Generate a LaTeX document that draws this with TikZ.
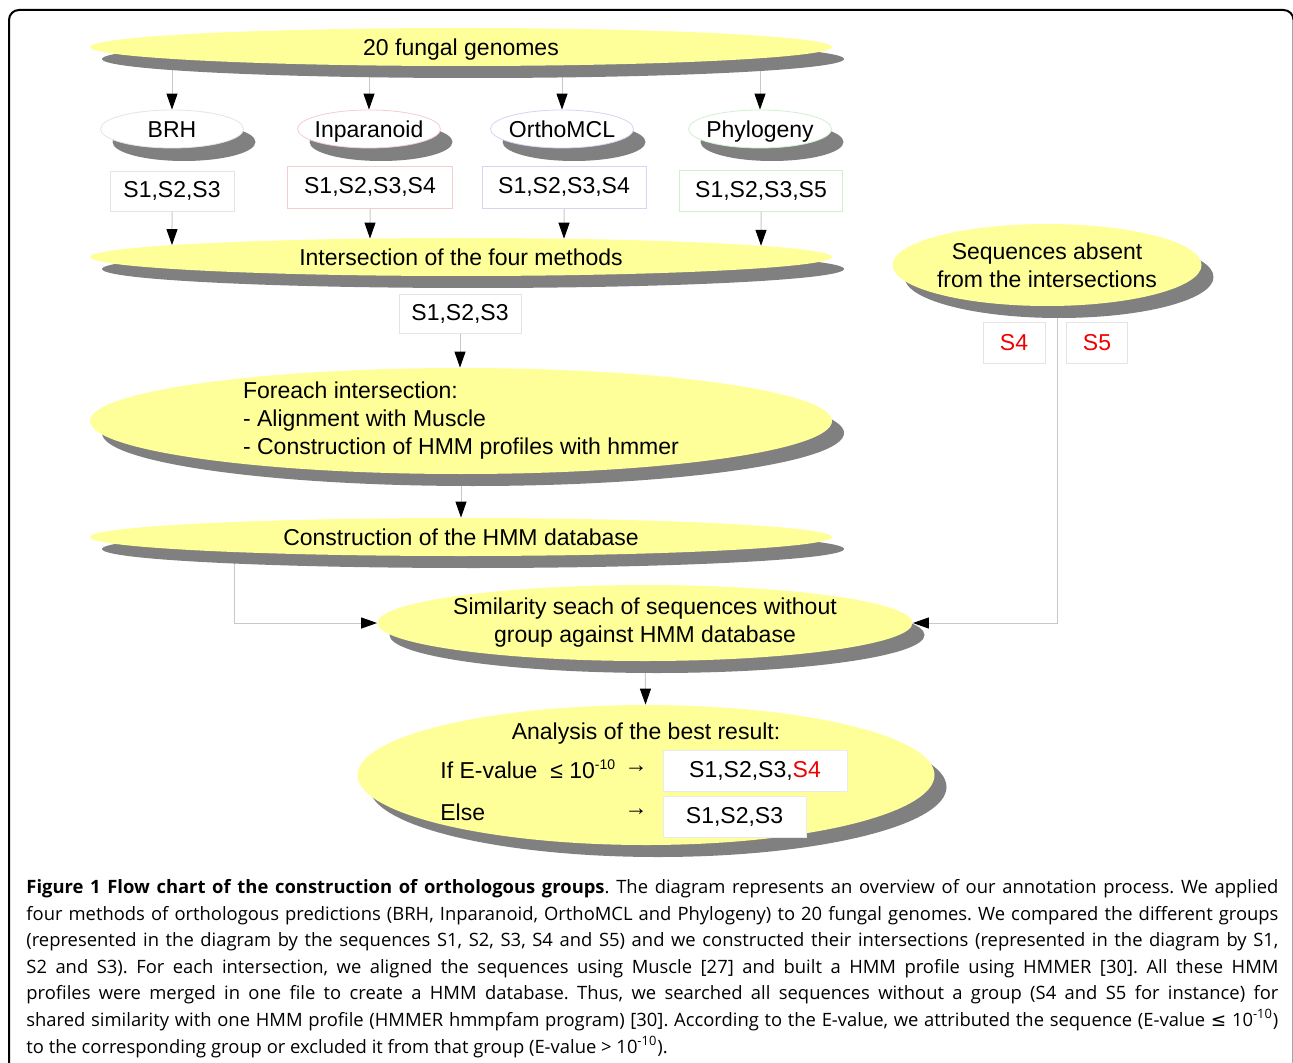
\documentclass[tikz,border=0pt]{standalone}
\usepackage{fontspec}
\setmainfont{Liberation Sans}
\newfontfamily\capfont{Open Sans}
\newfontfamily\symfont{DejaVu Sans}
\usetikzlibrary{shapes.geometric,shadows,arrows.meta,backgrounds,calc,intersections}

\definecolor{flowyellow}{RGB}{255,255,153}
\definecolor{shadowgray}{RGB}{128,128,128}
\definecolor{linegray}{RGB}{200,200,200}
\definecolor{brhline}{RGB}{228,228,228}
\definecolor{inpline}{RGB}{245,205,205}
\definecolor{omclline}{RGB}{212,212,245}
\definecolor{phyline}{RGB}{208,240,208}
\definecolor{seqred}{RGB}{240,0,0}

\tikzset{
  proc/.style={ellipse, fill=flowyellow, inner xsep=-4pt, inner ysep=-3pt, align=center,
    drop shadow={shadow xshift=6pt, shadow yshift=-6pt, fill=shadowgray, opacity=1}},
  oneline/.style={text height=8.2pt, text depth=0pt},
  method/.style={ellipse, fill=white, draw=#1, line width=0.4pt, inner xsep=-4pt, inner ysep=0pt,
    oneline, minimum width=71.5pt, minimum height=19pt,
    drop shadow={shadow xshift=6pt, shadow yshift=-6.5pt, fill=shadowgray, opacity=1}},
  seqbox/.style={rectangle, fill=white, draw=#1, line width=0.4pt, inner sep=0pt, minimum height=20.5pt},
  txt/.style={inner sep=0pt},
  conn/.style={draw=linegray, line width=0.5pt, -{Triangle[length=8pt,width=5.5pt,color=black]}},
}

\begin{document}
\begin{tikzpicture}[x=0.5pt, y=-0.5pt, every node/.style={font=\fontsize{11.5pt}{14pt}\selectfont}]
\useasboundingbox (0,0) rectangle (1293,1063);
% frame
\draw[line width=1pt, rounded corners=5pt] (9,1120) |- (1293.5,10) -- (1293.5,1120);

% top row
\node[proc, oneline, minimum width=371pt, minimum height=19pt] (genomes) at (461,47) {20 fungal genomes};
\node[method=brhline] (brh) at (172,129) {BRH};
\node[method=inpline] (inp) at (369,129) {Inparanoid};
\node[method=omclline] (omcl) at (562,129) {OrthoMCL};
\node[method=phyline] (phy) at (760,129) {Phylogeny};

\node[seqbox=brhline, minimum width=62pt, minimum height=20pt] (b1) at (172,191) {S1,S2,S3};
\node[seqbox=inpline, minimum width=82.5pt, minimum height=21pt] (b2) at (370,187) {S1,S2,S3,S4};
\node[seqbox=omclline, minimum width=82pt, minimum height=21pt] (b3) at (564,187) {S1,S2,S3,S4};
\node[seqbox=phyline, minimum width=81.5pt] (b4) at (761,191) {S1,S2,S3,S5};

% intersection and profiles
\node[proc, oneline, name path=fourpath, minimum width=371pt, minimum height=19pt] (four) at (461,257) {Intersection of the four methods};
\node[seqbox=brhline, minimum width=61pt, minimum height=19.5pt] (inter) at (460,314) {S1,S2,S3};
\node[proc, align=left, minimum width=371pt, minimum height=53pt] (each) at (461,421)
  {Foreach intersection:\\- Alignment with Muscle\\- Construction of HMM profiles with hmmer};
\node[proc, oneline, minimum width=371pt, minimum height=19pt] (db) at (461,537) {Construction of the HMM database};

% sequences without group
\node[proc, minimum width=154.5pt, minimum height=41pt] (absent) at (1047,265) {Sequences absent\\from the intersections};
\node[seqbox=brhline, minimum width=31pt, text=seqred] (s4) at (1014,343) {S4};
\node[seqbox=brhline, minimum width=30.5pt, text=seqred] (s5) at (1097,343) {S5};

\node[proc, minimum width=267.5pt, minimum height=38pt] (search) at (645,623)
  {Similarity seach of sequences without\\group against HMM database};

% best result
\node[proc, minimum width=288.5pt, minimum height=70pt] (best) at (646,775) {};
\node[txt] (bestttl) at (646,734) {Analysis of the best result:};
\node[txt, anchor=west] (ifline) at (440,769) {If E-value\ \ ≤ 10\textsuperscript{\scriptsize-10}};
\node[txt] (arr1) at (636,769) {→};
\node[seqbox=black!8, minimum width=92pt] (r1) at (755,771) {S1,S2,S3,\textcolor{seqred}{S4}};
\node[txt, anchor=west] (elseline) at (440,812) {Else};
\node[txt] (arr2) at (636,812) {→};
\node[seqbox=black!8, minimum width=71.5pt] (r2) at (734.5,816.5) {S1,S2,S3};

\begin{scope}[on background layer]
  \foreach \m in {brh,inp,omcl,phy}
    \draw[conn] (\m |- genomes) -- (\m);
  \foreach \b in {b1,b2,b3,b4}{
    \path[name path=vline] (\b) -- (\b |- four);
    \draw[conn, name intersections={of=vline and fourpath}] (\b) -- (intersection-1);
  }
  \draw[conn] (inter) -- (inter |- each.north);
  \draw[conn] (each) -- (db);
  \draw[conn] ($(db)+(-227,0)$) |- (search);
  \draw[conn] ($(absent)+(10,0)$) |- (search);
  \draw[conn] (search) -- (best);
\end{scope}

% caption
\node[anchor=north west, inner sep=0pt, text width=626pt, align=justify,
  font=\capfont\fontsize{9.2pt}{13.3pt}\selectfont\frenchspacing] (caption) at (26,879)
  {\textbf{Figure 1 Flow chart of the construction of orthologous groups}. The diagram represents an overview of our annotation process. We applied\linebreak
  four methods of orthologous predictions (BRH, Inparanoid, OrthoMCL and Phylogeny) to 20 fungal genomes. We compared the different groups\linebreak
  (represented in the diagram by the sequences S1, S2, S3, S4 and S5) and we constructed their intersections (represented in the diagram by S1,\linebreak
  S2 and S3). For each intersection, we aligned the sequences using Muscle [27] and built a HMM profile using HMMER [30]. All these HMM\linebreak
  profiles were merged in one file to create a HMM database. Thus, we searched all sequences without a group (S4 and S5 for instance) for\linebreak
  shared similarity with one HMM profile (HMMER hmmpfam program) [30]. According to the E-value, we attributed the sequence (E-value {\symfont ≤} 10\textsuperscript{-10})\linebreak
  to the corresponding group or excluded it from that group (E-value \textgreater{} 10\textsuperscript{-10}).};
\end{tikzpicture}
\end{document}
